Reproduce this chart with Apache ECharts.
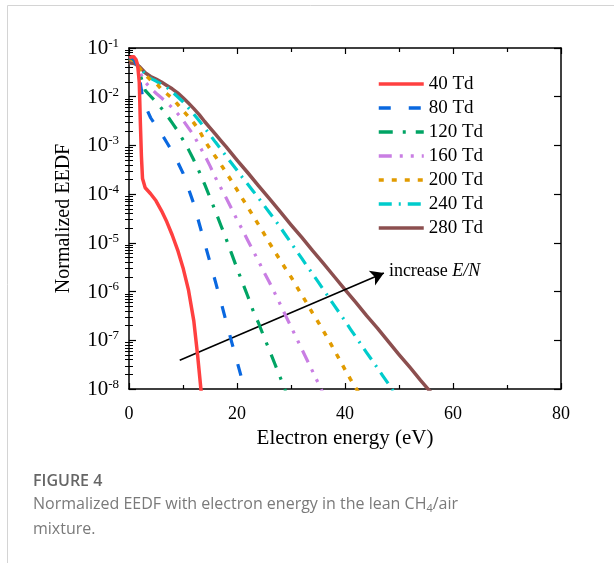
<!DOCTYPE html>
<html><head><meta charset="utf-8">
<script src="https://cdn.jsdelivr.net/npm/echarts@6/dist/echarts.min.js"></script>
<style>html,body{margin:0;padding:0;background:#fff}#c{width:614px;height:563px}</style>
</head><body><div id="c"></div><script>
// ---- data (electron energy in eV, normalized EEDF) ----
const seriesNames = ['40 Td','80 Td','120 Td','160 Td','200 Td','240 Td','280 Td'];
const energy40 = [0,0.5,0.9,1.3,1.6,1.9,2.1,2.3,2.5,3,4,5,6,7,8,9,10,11,12,12.7,13.4];
const eedf40   = [0.063,0.066,0.066,0.058,0.045,0.02,3e-3,6e-4,2.1e-4,1.35e-4,1.02e-4,7.3e-5,4.6e-5,2.7e-5,1.45e-5,7.2e-6,3.1e-6,1.1e-6,2.5e-7,5e-8,8e-9];
const energy80 = [0,0.5,1,1.5,2,2.5,3,4,5,6,7,8,9,10,11,12,13,14,15,16,17,18,19,20,21,21.6];
const eedf80   = [0.062,0.064,0.058,0.042,0.022,0.01,6.5e-3,3.7e-3,2.5e-3,1.75e-3,1.15e-3,7.5e-4,4.6e-4,2.7e-4,1.3e-4,6.3e-5,2.5e-5,1e-5,4e-6,1.6e-6,6.3e-7,2.4e-7,9.3e-8,3.7e-8,1.45e-8,8e-9];
const energy120 = [0,0.5,1,1.5,2,2.5,3,4,5,6,7,8,9,10,11,12,13,14,15,16,17,18,19,20,21,22,23,24,25,26,27,28,29];
const eedf120   = [0.06,0.062,0.055,0.045,0.03,0.02,0.0135,0.0102,7.8e-3,5.8e-3,4.2e-3,2.9e-3,2e-3,1.3e-3,8.3e-4,5e-4,2.9e-4,1.6e-4,8.5e-5,4.5e-5,2.3e-5,1.2e-5,6e-6,3e-6,1.55e-6,8e-7,4e-7,2.24e-7,1.17e-7,6.3e-8,3.3e-8,1.74e-8,9.1e-9];
const energy160 = [0,0.5,1,1.5,2,2.5,3,4,5,6,7,8,9,10,11,12,13,14,15,16,17,18,19,20,21,22,23,24,25,26,27,28,29,30,31,32,33,34,35,36];
const eedf160   = [0.06,0.062,0.055,0.045,0.033,0.025,0.02,0.015,0.0118,9.5e-3,7.6e-3,5.9e-3,4.5e-3,3.3e-3,2.3e-3,1.6e-3,1e-3,6.3e-4,3.8e-4,2.2e-4,1.35e-4,8.3e-5,5e-5,3e-5,1.86e-5,1.12e-5,6.8e-6,4.2e-6,2.5e-6,1.55e-6,9.3e-7,5.5e-7,3.2e-7,1.9e-7,1.12e-7,6.6e-8,3.9e-8,2.3e-8,1.35e-8,7.9e-9];
const energy200 = [0,1,2,3,4,5,6,7,8,9,10,11,12,13,14,15,16,17,18,19,20,21,22,23,24,25,26,27,28,29,30,31,32,33,34,35,36,37,38,39,40,41,42,43];
const eedf200   = [0.06,0.055,0.038,0.028,0.022,0.019,0.0142,0.0115,9.3e-3,7e-3,5.2e-3,3.9e-3,2.9e-3,2.05e-3,1.26e-3,8.5e-4,5.9e-4,4.1e-4,2.75e-4,1.86e-4,1.23e-4,8.1e-5,5.4e-5,3.55e-5,2.34e-5,1.55e-5,1e-5,6.6e-6,4.4e-6,2.95e-6,2e-6,1.3e-6,8.5e-7,5.6e-7,3.6e-7,2.4e-7,1.55e-7,1e-7,6.3e-8,4e-8,2.5e-8,1.6e-8,1.05e-8,7e-9];
const energy240 = [0,1,2,3,4,5,6,7,8,9,10,11,12,13,14,15,16,17,18,19,20,21,22,23,24,25,26,27,28,29,30,31,32,33,34,35,36,37,38,39,40,41,42,43,44,45,46,47,48,49];
const eedf240   = [0.062,0.056,0.04,0.029,0.0238,0.021,0.018,0.0155,0.0126,0.01,7.9e-3,5.9e-3,4.4e-3,3.2e-3,2.3e-3,1.65e-3,1.17e-3,8.5e-4,6e-4,4.3e-4,3.1e-4,2.2e-4,1.6e-4,1.15e-4,8.3e-5,5.9e-5,4.2e-5,3e-5,2.1e-5,1.45e-5,1e-5,6.9e-6,4.8e-6,3.3e-6,2.3e-6,1.6e-6,1.1e-6,7.6e-7,5.2e-7,3.6e-7,2.5e-7,1.7e-7,1.17e-7,8.1e-8,5.6e-8,3.9e-8,2.7e-8,1.86e-8,1.3e-8,8.9e-9];
const energy280 = [0,1,2,3,4,5,6,7,8,9,10,11,12,13,14,15,16,17,18,20,22,24,26,28,30,32,34,36,38,40,42,44,46,48,50,52,54,56];
const eedf280   = [0.05,0.048,0.041,0.031,0.026,0.023,0.02,0.017,0.0145,0.012,9.5e-3,7.4e-3,5.7e-3,4.3e-3,3.1e-3,2.3e-3,1.7e-3,1.25e-3,9.3e-4,5e-4,2.75e-4,1.48e-4,8.1e-5,4.4e-5,2.35e-5,1.29e-5,6.9e-6,3.8e-6,2.04e-6,1.1e-6,6e-7,3.2e-7,1.78e-7,9.5e-8,5.1e-8,2.8e-8,1.5e-8,8.3e-9];
const xTicks = [0,20,40,60,80];
const yDecades = [1e-8,1e-7,1e-6,1e-5,1e-4,1e-3,1e-2,1e-1];
const yMinors = [];
for (let e = -8; e < -1; e++) for (let m = 2; m <= 9; m++) yMinors.push(m * Math.pow(10, e));
const arrowFrom = [9.4, 3.9e-8];
const arrowTo = [47.2, 2.4e-6];
const arrowText = 'increase E/N';

const energies = [energy40,energy80,energy120,energy160,energy200,energy240,energy280];
const eedfs = [eedf40,eedf80,eedf120,eedf160,eedf200,eedf240,eedf280];
const colors = ['#ff4040','#0a68e0','#00a464','#c97ee3','#e19b00','#00cccc','#8c4f4f'];
const dashes = ['solid',[12,18],[14,10,3,10],[13,8,3,8,3,8],[5,8],[13,7,2,7],'solid'];
const widths = [3.5,3.2,3.2,3.2,3.5,3.2,3.5];

const serif = 'Liberation Serif';
const chart = echarts.init(document.getElementById('c'), null, {renderer:'canvas'});

const series = seriesNames.map((n,i)=>({
  name:n, type:'line', xAxisIndex:0, yAxisIndex:0,
  data: energies[i].map((x,j)=>[x, eedfs[i][j]]),
  symbol:'none', smooth:false, clip:true,
  lineStyle:{color:colors[i], width:widths[i], type:dashes[i], cap:'butt', join:'round'},
  itemStyle:{color:colors[i]}, z: 10 - i
}));
series[0].markLine = {
  silent:true, animation:false, symbol:['none','arrow'], symbolSize:[12,13],
  lineStyle:{color:'#000', width:1.6, type:'solid'}, label:{show:false},
  data:[[{coord:arrowFrom},{coord:arrowTo}]]
};

const yBase = {type:'log', logBase:10, min:1e-8, max:1e-1, gridIndex:0, splitLine:{show:false}};
const yLabelFmt = v => '{a|10}{b|' + Math.round(Math.log10(v)) + '}';

chart.setOption({
  animation:false,
  backgroundColor:'#fff',
  grid:{left:129, right:53, top:48, bottom:174, containLabel:false},
  legend:{
    orient:'vertical', left:377, top:74, padding:0, itemWidth:45, itemHeight:14, itemGap:4,
    data:seriesNames,
    itemStyle:{opacity:0, borderWidth:0},
    lineStyle:{width:3.5},
    textStyle:{fontFamily:serif, fontSize:19, lineHeight:20, color:'#000'}
  },
  xAxis:[
    {type:'value', min:0, max:80, interval:20, position:'bottom',
     axisLine:{show:true, onZero:false, lineStyle:{color:'#000', width:1.5}},
     axisTick:{show:true, inside:true, length:6, lineStyle:{color:'#000', width:1.2}},
     minorTick:{show:true, splitNumber:2, length:4, lineStyle:{color:'#000', width:1.2}},
     axisLabel:{fontFamily:serif, fontSize:18, color:'#000', margin:16, customValues:xTicks},
     splitLine:{show:false},
     name:'Electron energy (eV)', nameLocation:'middle', nameGap:34,
     nameTextStyle:{fontFamily:serif, fontSize:21, color:'#000'}},
    {type:'value', min:0, max:80, interval:20, position:'top',
     axisLine:{show:true, onZero:false, lineStyle:{color:'#000', width:1.5}},
     axisTick:{show:true, inside:true, length:6, lineStyle:{color:'#000', width:1.2}},
     minorTick:{show:true, splitNumber:2, length:4, lineStyle:{color:'#000', width:1.2}},
     axisLabel:{show:false}, splitLine:{show:false}}
  ],
  yAxis:[
    Object.assign({}, yBase, {position:'left',
     axisLine:{show:true, onZero:false, lineStyle:{color:'#000', width:1.5}},
     axisTick:{show:true, inside:true, length:7, customValues:yDecades, lineStyle:{color:'#000', width:1.2}},
     axisLabel:{customValues:yDecades, formatter:yLabelFmt, margin:10,
       rich:{a:{fontFamily:serif, fontSize:21, color:'#000', lineHeight:22, verticalAlign:'bottom'},
             b:{fontFamily:serif, fontSize:13, color:'#000', lineHeight:22, verticalAlign:'top', padding:[0,0,8,0]}}},
     name:'Normalized EEDF', nameLocation:'middle', nameGap:55,
     nameTextStyle:{fontFamily:serif, fontSize:20, color:'#000'}}),
    Object.assign({}, yBase, {position:'left',
     axisLine:{show:false}, axisLabel:{show:false},
     axisTick:{show:true, inside:true, length:4, customValues:yMinors, lineStyle:{color:'#000', width:1}}}),
    Object.assign({}, yBase, {position:'right',
     axisLine:{show:true, onZero:false, lineStyle:{color:'#000', width:1.5}}, axisLabel:{show:false},
     axisTick:{show:true, inside:true, length:7, customValues:yDecades, lineStyle:{color:'#000', width:1.2}}}),
    Object.assign({}, yBase, {position:'right',
     axisLine:{show:false}, axisLabel:{show:false},
     axisTick:{show:true, inside:true, length:4, customValues:yMinors, lineStyle:{color:'#000', width:1}}})
  ],
  series: series
});

const tip = chart.convertToPixel({xAxisIndex:0, yAxisIndex:0}, arrowTo);
const parts = arrowText.split(' ');
chart.setOption({
  graphic:[
    {type:'line', shape:{x1:7.5, y1:5.5, x2:614, y2:5.5}, style:{stroke:'#d4d4d4', lineWidth:1}, silent:true},
    {type:'line', shape:{x1:7.5, y1:5.5, x2:7.5, y2:563}, style:{stroke:'#d4d4d4', lineWidth:1}, silent:true},
    {type:'text', left:tip[0] + 5, top:tip[1] - 11, silent:true,
     style:{text:'{n|' + parts[0] + ' }{i|' + parts[1] + '}',
       rich:{n:{fontFamily:serif, fontSize:18, fill:'#000'}, i:{fontFamily:serif, fontSize:18, fontStyle:'italic', fill:'#000'}}}},
    {type:'text', left:33, top:473, silent:true,
     style:{text:'FIGURE 4', font:'600 16px "Open Sans"', fill:'#666666'}},
    {type:'text', left:33, top:495, silent:true,
     style:{text:'{t|Normalized EEDF with electron energy in the lean CH}{s|4}{t|/air}',
       rich:{t:{fontFamily:'Open Sans', fontSize:16, fill:'#7a7a7a', lineHeight:22},
             s:{fontFamily:'Open Sans', fontSize:11, fill:'#7a7a7a', lineHeight:22, padding:[8,0,0,0]}}}},
    {type:'text', left:33, top:518, silent:true,
     style:{text:'mixture.', fontFamily:'Open Sans', fontSize:16, fill:'#7a7a7a', lineHeight:22}}
  ]
});
</script></body></html>
